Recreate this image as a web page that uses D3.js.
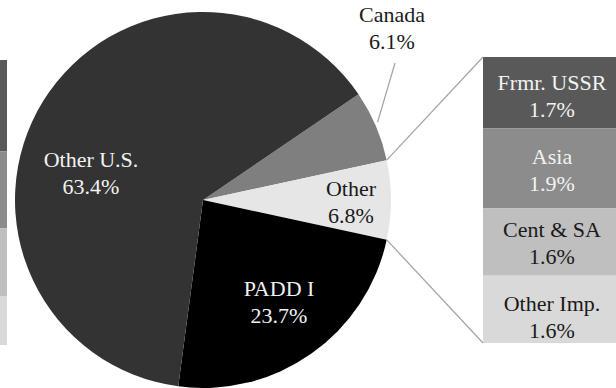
<!DOCTYPE html>
<html>
<head>
<meta charset="utf-8">
<script src="https://cdn.jsdelivr.net/npm/d3@7/dist/d3.min.js"></script>
<style>
  html, body { margin: 0; padding: 0; background: #ffffff; }
  svg { display: block; }
</style>
</head>
<body>
<svg id="chart" width="616" height="388"></svg>
<script>
// ---- Data ----
const pieCategories = ["Canada", "Other", "PADD I", "Other U.S."];
const pieValues = [6.1, 6.8, 23.7, 63.4];
const barCategories = ["Frmr. USSR", "Asia", "Cent & SA", "Other Imp."];
const barValues = [1.7, 1.9, 1.6, 1.6];
const leftStripValues = [32, 27, 24, 17]; // partially visible neighbouring bar (cropped)

// ---- Styles / layout ----
const FONT = "Liberation Serif";
const pieColors = { "Canada": "#7f7f7f", "Other": "#e6e6e6", "PADD I": "#000000", "Other U.S.": "#333333" };
const pieTextColors = { "Canada": "#1a1a1a", "Other": "#1a1a1a", "PADD I": "#f2f2f2", "Other U.S.": "#f2f2f2" };
const barColors = ["#595959", "#8c8c8c", "#bfbfbf", "#d9d9d9"];
const barTextColors = ["#f2f2f2", "#f2f2f2", "#1a1a1a", "#1a1a1a"];
const leftColors = ["#595959", "#8c8c8c", "#bfbfbf", "#d9d9d9"];
const fontSize = 22;
const lineGap = 27;

const cx = 203, cy = 200, R = 188;
const barX0 = 483, barX1 = 622, barTop = 57, barBottom = 343;
const pieLabelPos = {
  "Other U.S.": [91, 167],
  "Canada": [392, 22],
  "Other": [351, 196],
  "PADD I": [279, 296]
};
const barLabelDy = [-3, -4, -5, 2];

const svg = d3.select("#chart");

// ---- Pie ----
const total = d3.sum(pieValues);
const otherIdx = pieCategories.indexOf("Other");
const before = d3.sum(pieValues.slice(0, otherIdx));
const startAngle = Math.PI / 2 - (pieValues[otherIdx] / 2 + before) / total * 2 * Math.PI;

const pieGen = d3.pie().sort(null).value(d => d.v)
  .startAngle(startAngle).endAngle(startAngle + 2 * Math.PI);
const pieData = pieGen(pieCategories.map((c, i) => ({ c, v: pieValues[i] })));
const arc = d3.arc().innerRadius(0).outerRadius(R);

const g = svg.append("g").attr("transform", `translate(${cx},${cy})`);
g.selectAll("path").data(pieData).enter().append("path")
  .attr("d", arc)
  .attr("fill", d => pieColors[d.data.c]);

// ---- Left cropped strip ----
const leftScale = d3.scaleLinear().domain([0, d3.sum(leftStripValues)]).range([60, 345]);
let accL = 0;
leftStripValues.forEach((v, i) => {
  svg.append("rect")
    .attr("x", 0).attr("width", 7)
    .attr("y", leftScale(accL)).attr("height", leftScale(accL + v) - leftScale(accL))
    .attr("fill", leftColors[i]);
  accL += v;
});

// ---- Bar of pie ----
const yBar = d3.scaleLinear().domain([0, d3.sum(barValues)]).range([barTop, barBottom]);
let acc = 0;
const segs = barValues.map((v, i) => { const s = { i, y0: acc, y1: acc + v, v }; acc += v; return s; });
svg.selectAll("rect.bar").data(segs).enter().append("rect")
  .attr("class", "bar")
  .attr("x", barX0).attr("width", barX1 - barX0)
  .attr("y", d => yBar(d.y0)).attr("height", d => yBar(d.y1) - yBar(d.y0))
  .attr("fill", d => barColors[d.i]);

const otherSlice = pieData[otherIdx];
function edgePt(a) { return [cx + R * Math.sin(a), cy - R * Math.cos(a)]; }
const pTop = edgePt(otherSlice.startAngle), pBot = edgePt(otherSlice.endAngle);
svg.append("line").attr("x1", pTop[0]).attr("y1", pTop[1]).attr("x2", barX0).attr("y2", yBar(0))
  .attr("stroke", "#a6a6a6").attr("stroke-width", 1.3);
svg.append("line").attr("x1", pBot[0]).attr("y1", pBot[1]).attr("x2", barX0).attr("y2", yBar(d3.sum(barValues)))
  .attr("stroke", "#a6a6a6").attr("stroke-width", 1.3);

segs.forEach(s => {
  const mid = (yBar(s.y0) + yBar(s.y1)) / 2;
  const t = svg.append("text").attr("text-anchor", "middle")
    .attr("font-family", FONT)
    .attr("font-size", fontSize).attr("fill", barTextColors[s.i]);
  t.append("tspan").attr("x", 552).attr("y", mid + barLabelDy[s.i]).text(barCategories[s.i]);
  t.append("tspan").attr("x", 552).attr("y", mid + barLabelDy[s.i] + lineGap).text(s.v.toFixed(1) + "%");
});

const canSlice = pieData[pieCategories.indexOf("Canada")];
const canMid = (canSlice.startAngle + canSlice.endAngle) / 2;
const canEdge = [cx + (R + 2) * Math.sin(canMid), cy - (R + 2) * Math.cos(canMid) - 3];
svg.append("line").attr("x1", canEdge[0]).attr("y1", canEdge[1])
  .attr("x2", pieLabelPos["Canada"][0] + 3).attr("y2", pieLabelPos["Canada"][1] + lineGap + 14)
  .attr("stroke", "#a6a6a6").attr("stroke-width", 1.3);

pieData.forEach(d => {
  const c = d.data.c;
  const [lx, ly] = pieLabelPos[c];
  const t = svg.append("text").attr("text-anchor", "middle")
    .attr("font-family", FONT)
    .attr("font-size", fontSize).attr("fill", pieTextColors[c]);
  t.append("tspan").attr("x", lx).attr("y", ly).text(c);
  t.append("tspan").attr("x", lx).attr("y", ly + lineGap).text(d.data.v.toFixed(1) + "%");
});
</script>
</body>
</html>
